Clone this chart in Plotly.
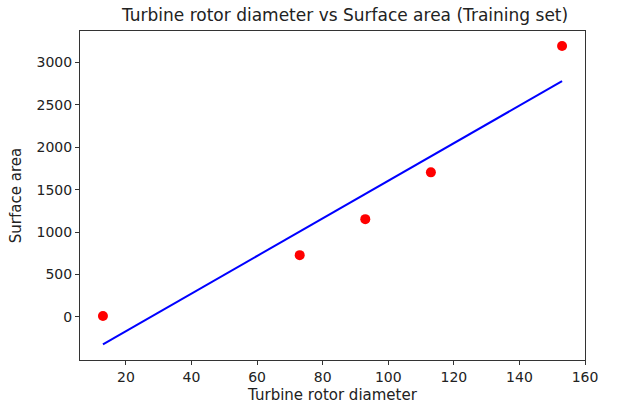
import plotly.graph_objects as go

# training data
rotor_diameter = [13, 73, 93, 113, 153]
surface_area = [10, 727, 1152, 1704, 3196]
# fitted regression line at the training x values
predicted_area = [-325, 1005, 1450, 1890, 2780]

x_ticks = [20, 40, 60, 80, 100, 120, 140, 160]
y_ticks = [0, 500, 1000, 1500, 2000, 2500, 3000]

font = "DejaVu Sans"

fig = go.Figure()
fig.add_trace(go.Scatter(
    x=rotor_diameter, y=surface_area, mode="markers",
    marker=dict(color="red", size=10), showlegend=False
))
fig.add_trace(go.Scatter(
    x=rotor_diameter, y=predicted_area, mode="lines",
    line=dict(color="blue", width=2), showlegend=False
))

axis_style = dict(
    showline=True, mirror=True, linecolor="#333333", linewidth=1,
    ticks="outside", ticklen=4, tickcolor="#333333",
    showgrid=False, zeroline=False,
    tickfont=dict(family=font, size=14, color="#222222"),
)

fig.update_layout(
    width=624, height=411,
    margin=dict(l=80, r=39, t=31, b=51),
    plot_bgcolor="white", paper_bgcolor="white",
    title=dict(text="Turbine rotor diameter vs Surface area (Training set)",
               x=0.553, xanchor="center", y=0.963, yanchor="middle",
               font=dict(family=font, size=17, color="#222222")),
    xaxis=dict(range=[6, 160], tickvals=x_ticks,
               title=dict(text="Turbine rotor diameter", standoff=5,
                          font=dict(family=font, size=15, color="#222222")),
               **axis_style),
    yaxis=dict(range=[-510, 3372], tickvals=y_ticks,
               title=dict(text="Surface area", standoff=11,
                          font=dict(family=font, size=15, color="#222222")),
               **axis_style),
)

# drop the page's default body margin so the figure sits at the top-left corner
fig.write_html("out.html", config={"displayModeBar": False},
               post_script="document.body.style.margin = '0';")
